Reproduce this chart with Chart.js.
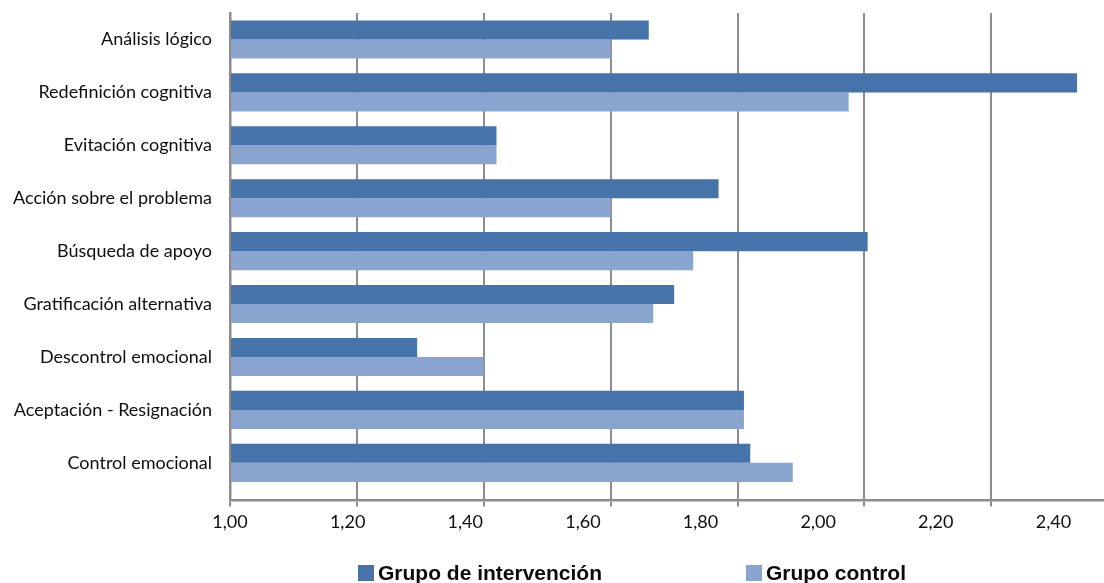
<!DOCTYPE html>
<html lang="es">
<head>
<meta charset="utf-8">
<title>Estrategias de afrontamiento</title>
<script src="https://cdn.jsdelivr.net/npm/chart.js@4.4.1/dist/chart.umd.min.js"></script>
<style>
  html, body { margin: 0; padding: 0; background: #ffffff; }
  #wrap { position: relative; width: 1104px; height: 583px; overflow: hidden; }
  #legend {
    position: absolute; left: 358px; top: 562px;
    display: flex; gap: 144px;
    font: bold 21px "Liberation Sans", Arial, sans-serif; color: #0a0a0a;
    line-height: 21px;
  }
  #legend .item { display: flex; align-items: center; white-space: nowrap; }
  #legend .sw { width: 16px; height: 16px; margin-right: 4px; }
</style>
</head>
<body>
<div id="wrap">
  <canvas id="chart" width="1104" height="583"></canvas>
  <div id="legend"></div>
</div>
<script>
// Coping strategies, mean scores per group
const categories = [
  'Análisis lógico',
  'Redefinición cognitiva',
  'Evitación cognitiva',
  'Acción sobre el problema',
  'Búsqueda de apoyo',
  'Gratificación alternativa',
  'Descontrol emocional',
  'Aceptación - Resignación',
  'Control emocional'
];
const seriesNames = ['Grupo de intervención', 'Grupo control'];
const intervencion = [1.66, 2.335, 1.42, 1.77, 2.005, 1.70, 1.295, 1.81, 1.82];
const control      = [1.60, 1.975, 1.42, 1.60, 1.73, 1.667, 1.40, 1.81, 1.887];
const tickValues   = [1.00, 1.20, 1.40, 1.60, 1.80, 2.00, 2.20, 2.40];

const seriesColors = ['#4674AA', '#89A4CF'];
const gridColor = '#8C8C91';
const textColor = '#0f0f0f';
const labelFont = "Lato, 'Liberation Sans', sans-serif";

// value axis range for the bars / gridlines, and for the printed tick labels
const X_MIN = 1.0, X_MAX = 2.3775;
const LABEL_MAX = 2.486;

const toPoints = arr => arr.map((v, i) => ({ x: v, y: i }));
const noScalePadding = s => { s.paddingTop = 0; s.paddingBottom = 0; s.paddingLeft = 0; s.paddingRight = 0; };

const chart = new Chart(document.getElementById('chart'), {
  type: 'bar',
  data: {
    datasets: [
      { label: seriesNames[0], data: toPoints(intervencion), backgroundColor: seriesColors[0], base: X_MIN, xAxisID: 'x', yAxisID: 'y' },
      { label: seriesNames[1], data: toPoints(control),      backgroundColor: seriesColors[1], base: X_MIN, xAxisID: 'x', yAxisID: 'y' }
    ]
  },
  options: {
    indexAxis: 'y',
    responsive: false,
    animation: false,
    events: [],
    layout: { padding: { top: 13, left: 0, right: 0, bottom: 45 } },
    datasets: { bar: { categoryPercentage: 0.72, barPercentage: 1.0, borderWidth: 0 } },
    plugins: { legend: { display: false }, tooltip: { enabled: false } },
    scales: {
      y: {
        type: 'linear',
        offset: false,
        reverse: true,
        min: -0.5,
        max: 8.71,
        afterBuildTicks: s => { s.ticks = categories.map((_, i) => ({ value: i })); },
        afterFit: s => { s.width = 230; noScalePadding(s); },
        ticks: {
          autoSkip: false,
          padding: 18,
          color: textColor,
          font: { family: labelFont, size: 18 },
          callback: v => categories[v]
        },
        grid: { display: false, drawTicks: false, offset: false },
        border: { display: true, color: gridColor, width: 2.5 }
      },
      x: {
        type: 'linear',
        position: 'bottom',
        min: X_MIN,
        max: X_MAX,
        afterBuildTicks: s => { s.ticks = tickValues.filter(v => v <= s.max).map(v => ({ value: v })); },
        afterFit: noScalePadding,
        ticks: { display: false },
        grid: { display: true, color: gridColor, lineWidth: 2, drawTicks: true, tickLength: 6 },
        border: { display: true, color: gridColor, width: 2.5 }
      },
      x2: {
        type: 'linear',
        position: 'bottom',
        display: true,
        min: X_MIN,
        max: LABEL_MAX,
        afterBuildTicks: s => { s.ticks = tickValues.map(v => ({ value: v })); },
        afterFit: noScalePadding,
        ticks: {
          autoSkip: false,
          maxRotation: 0,
          padding: 5,
          color: textColor,
          font: { family: labelFont, size: 18 },
          callback: v => Number(v).toFixed(2).replace('.', ',')
        },
        grid: { display: false, drawTicks: false },
        border: { display: false }
      }
    }
  }
});

// legend built from the chart's datasets
const legend = document.getElementById('legend');
chart.data.datasets.forEach(ds => {
  const item = document.createElement('div');
  item.className = 'item';
  const sw = document.createElement('span');
  sw.className = 'sw';
  sw.style.background = ds.backgroundColor;
  const txt = document.createElement('span');
  txt.textContent = ds.label;
  item.appendChild(sw);
  item.appendChild(txt);
  legend.appendChild(item);
});
</script>
</body>
</html>
